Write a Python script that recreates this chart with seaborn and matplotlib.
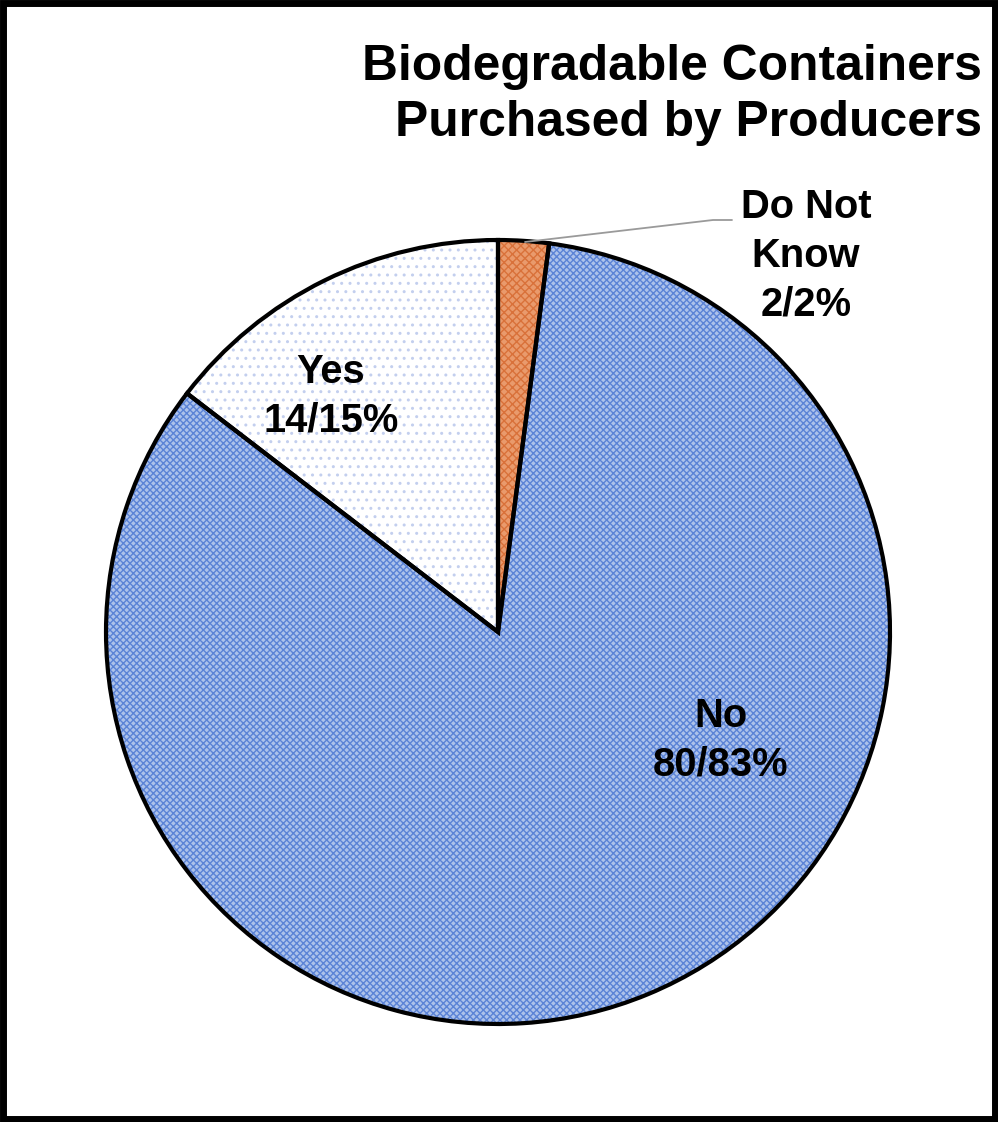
import matplotlib
matplotlib.use("Agg")
import matplotlib.pyplot as plt
import seaborn as sns
from matplotlib.patches import Rectangle

sns.set_theme(style="white")
plt.rcParams['font.family'] = ['Liberation Sans', 'DejaVu Sans']

# Survey answers, drawn clockwise from 12 o'clock
categories = ["Do Not Know", "No", "Yes"]
counts = [2, 80, 14]
percents = [2, 83, 15]
label_names = [["Do Not", "Know"], ["No"], ["Yes"]]
title_lines = ["Biodegradable Containers", "Purchased by Producers"]

fill_colors = ["#e99a6c", "#adc2eb", "#ffffff"]
hatch_colors = ["#d9713a", "#5b83d6", "#c3cfee"]
hatches = ["xxxx", "xxxxx", ".."]

W, H = 998, 1122
CX, CY, R = 498, 632, 392

fig = plt.figure(figsize=(W / 100, H / 100), dpi=100)
ax = fig.add_axes([(CX - R) / W, 1 - (CY + R) / H, 2 * R / W, 2 * R / H])


def px(x, y):
    """Pixel position (origin top-left) to data coordinates of the pie axes."""
    return (x - CX) / R, (CY - y) / R


# Textured fills
wedges, _ = ax.pie(counts, startangle=90, counterclock=False, radius=1,
                   wedgeprops=dict(linewidth=0))
for w, fc, hc, h in zip(wedges, fill_colors, hatch_colors, hatches):
    w.set_facecolor(fc)
    w.set_edgecolor(hc)
    w.set_hatch(h)
    w.set_linewidth(0)

# Black outlines on top
ax.pie(counts, startangle=90, counterclock=False, radius=1,
       wedgeprops=dict(fill=False, edgecolor="black", linewidth=3.0))
ax.set_xlim(-1, 1)
ax.set_ylim(-1, 1)
ax.set_aspect("equal")
ax.axis("off")

# Slice labels: name line(s) followed by "count/percent%"
label_anchor = {"Do Not Know": (806, 218), "No": (721, 727), "Yes": (331, 383)}
line_step = 49
for cat, names, c, p in zip(categories, label_names, counts, percents):
    x0, y0 = label_anchor[cat]
    lines = names + [f"{c}/{p}%"]
    for i, line in enumerate(lines):
        ax.text(*px(x0, y0 + i * line_step), line, ha="center", va="baseline",
                fontsize=28.7, fontweight="bold", color="black")

# Leader line for the small slice
lx, ly = zip(px(525, 242), px(713, 220), px(732, 220))
ax.plot(lx, ly, color="#9a9a9a", linewidth=1.3, clip_on=False)

for i, line in enumerate(title_lines):
    fig.text(982 / W, 1 - (80 + i * 56) / H, line, ha="right", va="baseline",
             fontsize=35.8, fontweight="bold", color="black")

# Frame around the whole chart
fig.patches.append(Rectangle((0.003, 0.003), 0.994, 0.994, transform=fig.transFigure,
                             fill=False, edgecolor="black", linewidth=5))

fig.savefig("out.png", dpi=100, facecolor="white")
